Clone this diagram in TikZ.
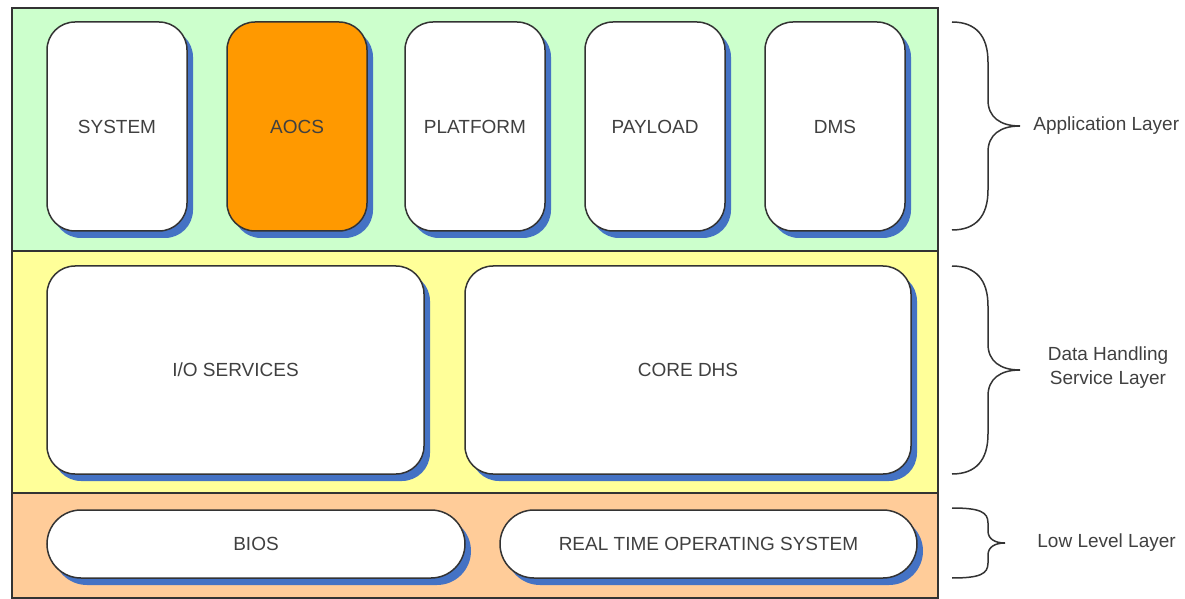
\documentclass[tikz,border=0pt]{standalone}
\usepackage{fontspec}
\setmainfont{Liberation Sans}
\usetikzlibrary{shadows}
\definecolor{appgreen}{HTML}{CCFFCC}
\definecolor{dhsyellow}{HTML}{FFFF99}
\definecolor{lowpeach}{HTML}{FFCC99}
\definecolor{aocsorange}{HTML}{FF9900}
\definecolor{shadowblue}{HTML}{4472C4}
\definecolor{edgegray}{HTML}{333333}
\definecolor{labelgray}{HTML}{404040}
\tikzset{
  layer/.style={draw=edgegray, line width=.75pt, inner sep=0pt, minimum width=463pt},
  module/.style={draw=edgegray, line width=.75pt, fill=white, inner sep=0pt,
    rounded corners=14pt, text=labelgray, font=\fontsize{9.5}{11}\selectfont,
    drop shadow={shadow xshift=3pt, shadow yshift=-3.5pt, fill=shadowblue, opacity=1}},
  appmodule/.style={module, minimum width=70pt, minimum height=104.5pt},
  dhsmodule/.style={module, minimum height=104pt},
  lowmodule/.style={module, rounded corners=17pt, minimum height=34pt},
  layerbrace/.style={draw=edgegray, line width=.75pt},
  layerlabel/.style={inner sep=0pt, text=labelgray, font=\fontsize{9.5}{12}\selectfont}
}

\begin{document}
\begin{tikzpicture}[x=.5pt,y=-.5pt]
\useasboundingbox (0,0) rectangle (1185,599);

% the three layers
\node[layer, fill=appgreen, minimum height=121.5pt] (applayer) at (475,129.5) {};
\node[layer, fill=dhsyellow, minimum height=121pt] (dhslayer) at (475,372) {};
\node[layer, fill=lowpeach, minimum height=52.5pt] (lowlayer) at (475,545.5) {};

% application modules
\foreach \name/\text/\x/\col in {system/SYSTEM/117/white, aocs/AOCS/297/aocsorange,
    platform/PLATFORM/475/white, payload/PAYLOAD/655/white, dms/DMS/835/white}
  \node[appmodule, fill=\col] (\name) at (\x,126.5) {\text};

% data handling services
\node[dhsmodule, minimum width=188.5pt] (ioservices) at (235.5,370) {I/O SERVICES};
\node[dhsmodule, minimum width=223pt] (coredhs) at (688,370) {CORE DHS};

% low level
\node[lowmodule, minimum width=209pt] (bios) at (256,544) {BIOS};
\node[lowmodule, minimum width=208.5pt] (rtos) at (708.5,544) {REAL TIME OPERATING SYSTEM};

% braces
\draw[layerbrace]
  (952,22) .. controls (976,22) and (988,36) .. (988,62) -- (988,100)
  .. controls (988,117) and (1000,126) .. (1020,126)
  .. controls (1000,126) and (988,135) .. (988,152) -- (988,190)
  .. controls (988,216) and (976,230) .. (952,230);
\draw[layerbrace]
  (952,266) .. controls (976,266) and (988,280) .. (988,306) -- (988,344)
  .. controls (988,361) and (1000,370) .. (1020,370)
  .. controls (1000,370) and (988,379) .. (988,396) -- (988,434)
  .. controls (988,460) and (976,474) .. (952,474);
\draw[layerbrace]
  (952,508) .. controls (980,508) and (988,512) .. (988,523) -- (988,531)
  .. controls (988,539) and (995,543) .. (1005,543)
  .. controls (995,543) and (988,547) .. (988,555) -- (988,563)
  .. controls (988,574) and (980,578) .. (952,578);

\node[layerlabel, anchor=west] (applabel) at (1033,126) {Application Layer};
\node[layerlabel, align=center] (dhslabel) at (1108,368) {Data Handling\\Service Layer};
\node[layerlabel, anchor=west] (lowlabel) at (1037,543) {Low Level Layer};
\end{tikzpicture}
\end{document}
